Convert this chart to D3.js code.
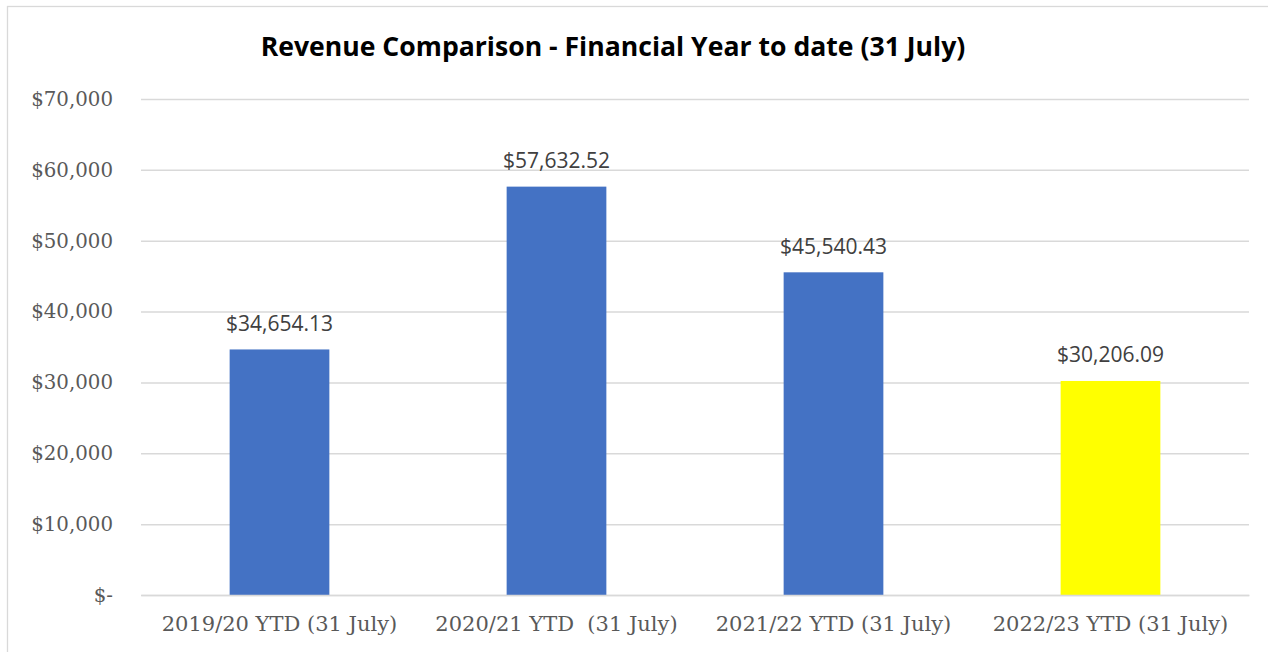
<!DOCTYPE html>
<html><head><meta charset="utf-8">
<script src="https://cdn.jsdelivr.net/npm/d3@7"></script>
<style>
html,body{margin:0;padding:0;background:#fff;}
svg{display:block;}
</style></head>
<body>
<svg id="chart" width="1268" height="652"></svg>
<script>
const categories = ["2019/20 YTD (31 July)", "2020/21 YTD  (31 July)", "2021/22 YTD (31 July)", "2022/23 YTD (31 July)"];
const revenue = [34654.13, 57632.52, 45540.43, 30206.09];
const barColors = ["#4472C4", "#4472C4", "#4472C4", "#FFFF00"];
const yTicks = [0, 10000, 20000, 30000, 40000, 50000, 60000, 70000];
const title = "Revenue Comparison - Financial Year to date (31 July)";

const svg = d3.select("#chart");
const m = {left: 141, right: 1249, top: 99, bottom: 595};

// chart border (left and top visible)
svg.append("rect").attr("x", 7.5).attr("y", 6.5).attr("width", 1280).attr("height", 700)
  .attr("fill", "none").attr("stroke", "#D9D9D9").attr("stroke-width", 1.3);

const x = d3.scaleBand().domain(categories).range([m.left, m.right]).paddingInner(0.64).paddingOuter(0.32);
const y = d3.scaleLinear().domain([0, 70000]).range([m.bottom, m.top]);

const fmtTick = v => v === 0 ? "$-" : "$" + d3.format(",")(v);
const fmtLabel = v => "$" + d3.format(",.2f")(v);

// grid + y labels
const yAxis = d3.axisLeft(y).tickValues(yTicks).tickSize(-(m.right - m.left)).tickFormat(fmtTick).tickPadding(28);
const gy = svg.append("g").attr("transform", `translate(${m.left},0)`).call(yAxis);
gy.select(".domain").remove();
gy.selectAll(".tick line").attr("stroke", "#D9D9D9").attr("stroke-width", 1.5);
gy.selectAll(".tick text").attr("fill", "#595959").attr("font-family", "'DejaVu Serif', serif")
  .attr("font-size", 19.8).attr("dy", "0.32em");

// bars
svg.append("g").selectAll("rect").data(revenue).join("rect")
  .attr("x", (d, i) => x(categories[i]))
  .attr("width", x.bandwidth())
  .attr("y", d => y(d))
  .attr("height", d => y(0) - y(d))
  .attr("fill", (d, i) => barColors[i]);

// x axis
const xAxis = d3.axisBottom(x).tickSize(0).tickPadding(21);
const gx = svg.append("g").attr("transform", `translate(0,${m.bottom})`).call(xAxis);
gx.select(".domain").attr("stroke", "#D9D9D9").attr("stroke-width", 1.5);
gx.selectAll(".tick text").attr("fill", "#595959").attr("font-family", "'DejaVu Serif', serif")
  .attr("font-size", 21).style("white-space", "pre");

// data labels
svg.append("g").selectAll("text").data(revenue).join("text")
  .attr("x", (d, i) => x(categories[i]) + x.bandwidth() / 2)
  .attr("y", d => y(d) - 18.5)
  .attr("text-anchor", "middle")
  .attr("fill", "#404040")
  .attr("font-family", "'Open Sans', sans-serif")
  .attr("font-size", 21)
  .text(fmtLabel);

// title
svg.append("text").attr("x", 613).attr("y", 56).attr("text-anchor", "middle")
  .attr("font-family", "'Open Sans', sans-serif").attr("font-weight", "bold")
  .attr("font-size", 26.6).attr("fill", "#000").text(title);
</script>
</body></html>
